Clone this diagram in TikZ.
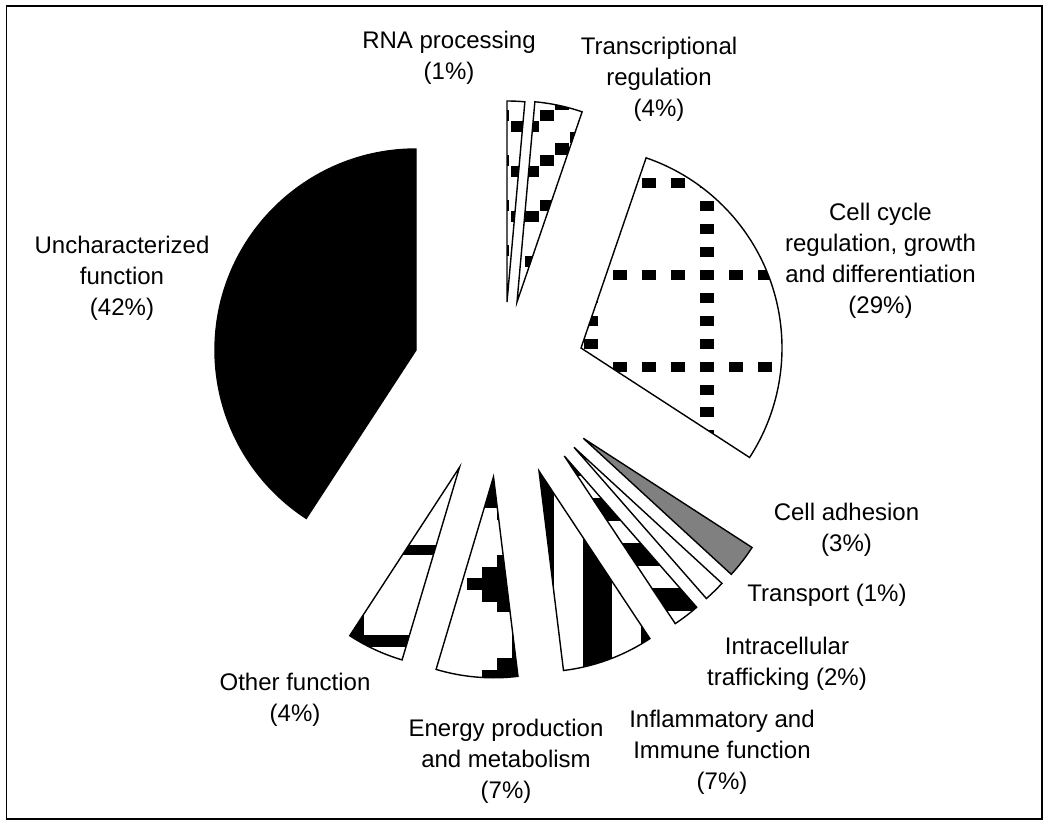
\documentclass[tikz,border=0pt]{standalone}
\usepackage{fontspec}
\setmainfont{Liberation Sans}
\begin{document}
\begin{tikzpicture}[x=1pt,y=-1pt,
  slicep/.style n args={3}{insert path={(#1) -- ++({-(#2)}:201) arc[start angle={-(#2)}, end angle={-(#3)}, radius=201] -- cycle}},
  outl/.style={draw=black, line width=1.4pt, line join=miter},
  lbl/.style={align=center, inner sep=0pt, font=\fontsize{24}{31}\selectfont}]
\useasboundingbox (0,0) rectangle (1050,825);
\draw[line width=1.6pt] (6.5,6) rectangle (1042,819);

% apexes
\coordinate (aRNA) at (507,302);
\coordinate (aTR) at (517,302);
\coordinate (aCC) at (581,348);
\coordinate (aCA) at (583.3,438.3);
\coordinate (aTP) at (574,447.3);
\coordinate (aIT) at (564.3,456);
\coordinate (aIF) at (539,471);
\coordinate (aEN) at (493.5,476.8);
\coordinate (aOT) at (459.5,467.3);
\coordinate (aUN) at (416,350);

% Uncharacterized
\path[fill=black, outl, slicep={aUN}{90}{236.9}];

% RNA processing
\begin{scope}
\clip[slicep={aRNA}{84.9}{90}];
\foreach \r in {-1,...,18}{
  \pgfmathsetmacro{\cx}{495.5+15*mod(\r+8,4)}
  \pgfmathsetmacro{\cy}{109.5+11.25*\r}
  \fill (\cx,\cy) rectangle ++(13.5,11.25);
}
\end{scope}
\path[outl, slicep={aRNA}{84.9}{90}];

% Transcriptional regulation
\begin{scope}
\clip[slicep={aTR}{71.1}{84.9}];
\foreach \r in {-1,...,18}{
  \pgfmathsetmacro{\cx}{525+15*mod(21-\r,4)}
  \pgfmathsetmacro{\cy}{109.5+11.25*\r}
  \fill (\cx,\cy) rectangle ++(13.5,11.25);
}
\end{scope}
\path[outl, slicep={aTR}{71.1}{84.9}];

% Cell cycle
\begin{scope}
\clip[slicep={aCC}{-33}{71.1}];
\foreach \yy in {178.4,270,361.6,453.2}{
  \foreach \k in {-1,...,7}{\fill ({584+29*\k},\yy) rectangle ++(14,10);}}
\foreach \xx in {584,700}{
  \foreach \k in {-5,...,8}{\fill (\xx,{270+22.9*\k}) rectangle ++(14,10);}}
\end{scope}
\path[outl, slicep={aCC}{-33}{71.1}];

% Cell adhesion
\path[fill={rgb,255:red,128;green,128;blue,128}, outl, slicep={aCA}{-42.6}{-32.9}];

% Transport
\path[fill=white, outl, slicep={aTP}{-48.8}{-42.6}];

% Intracellular trafficking
\begin{scope}
\clip[slicep={aIT}{-56.5}{-48.8}];
\foreach \k in {0,...,4}{\fill (540,{453+45*\k}) rectangle ++(200,22.5);}
\end{scope}
\path[outl, slicep={aIT}{-56.5}{-48.8}];

% Inflammatory
\begin{scope}
\clip[slicep={aIF}{-83}{-56.5}];
\foreach \k in {0,...,2}{\fill ({525+58*\k},460) rectangle ++(29,230);}
\end{scope}
\path[outl, slicep={aIF}{-83}{-56.5}];

% Energy production
\begin{scope}
\clip[slicep={aEN}{-106.6}{-83}];
\fill (400,470) rectangle (560,508);
\fill (497,508) rectangle (560,520);
\fill (497,555) rectangle (560,567);
\fill (482,567) rectangle (560,578);
\fill (467,578) rectangle (560,590);
\fill (482,590) rectangle (560,602);
\fill (497,602) rectangle (560,612);
\fill (512,612) rectangle (560,658);
\fill (497,658) rectangle (560,670);
\fill (482,670) rectangle (560,690);
\end{scope}
\path[outl, slicep={aEN}{-106.6}{-83}];

% Other function
\begin{scope}
\clip[slicep={aOT}{-123.1}{-106.6}];
\fill (330,545) rectangle (470,555);
\fill (330,635) rectangle (470,647);
\fill (330,555) rectangle (364,647);
\end{scope}
\path[outl, slicep={aOT}{-123.1}{-106.6}];

% Labels
\node[lbl] (lRNA) at (449,58) {RNA processing\\(1\%)};
\node[lbl] (lTR) at (659,79) {Transcriptional\\regulation\\(4\%)};
\node[lbl] (lUN) at (122,278.5) {Uncharacterized\\function\\(42\%)};
\node[lbl] (lCC) at (880.5,260.4) {Cell cycle\\regulation, growth\\and differentiation\\(29\%)};
\node[lbl] (lCA) at (846.5,529.4) {Cell adhesion\\(3\%)};
\node[lbl] (lTP) at (827,595) {Transport (1\%)};
\node[lbl] (lIT) at (787,663.8) {Intracellular\\trafficking (2\%)};
\node[lbl] (lIF) at (722,752.5) {Inflammatory and\\Immune function\\(7\%)};
\node[lbl] (lEN) at (506,761.5) {Energy production\\and metabolism\\(7\%)};
\node[lbl] (lOT) at (295,699.3) {Other function\\(4\%)};
\end{tikzpicture}
\end{document}
